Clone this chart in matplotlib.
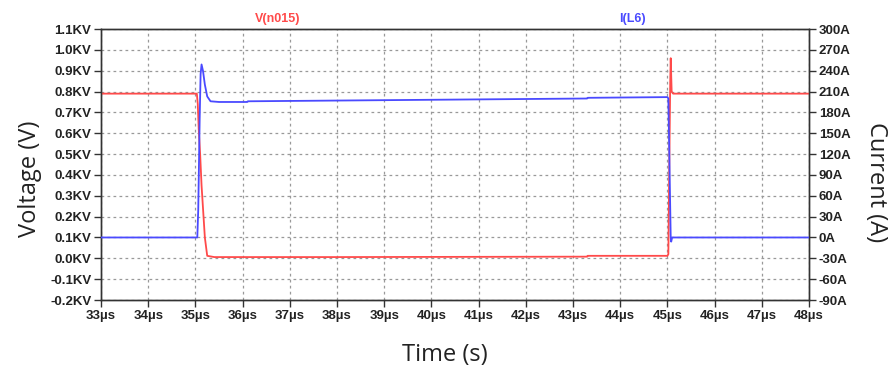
"""Switching transient: node voltage V(n015) and inductor current I(L6)."""
import matplotlib
matplotlib.use("Agg")
import matplotlib.pyplot as plt
from matplotlib.ticker import FuncFormatter, MultipleLocator

plt.rcParams.update({
    "font.family": ["Liberation Sans Narrow", "Liberation Sans", "DejaVu Sans"],
    "axes.edgecolor": "#333333",
    "xtick.color": "#333333",
    "ytick.color": "#333333",
})

# V(n015) in kV
v_time = [33.0, 35.03, 35.05, 35.07, 35.10, 35.13, 35.20, 35.25, 35.40, 38.0,
          43.3, 43.31, 45.0, 45.02, 45.04, 45.06, 45.07, 45.09, 45.12, 48.0]
v_kv = [0.79, 0.79, 0.74, 0.62, 0.50, 0.35, 0.10, 0.012, 0.006, 0.006,
        0.008, 0.012, 0.012, 0.02, 0.45, 0.85, 0.96, 0.80, 0.79, 0.79]

# I(L6) in A
i_time = [33.0, 35.04, 35.06, 35.09, 35.11, 35.13, 35.16, 35.20, 35.25, 35.32,
          35.50, 36.1, 36.11, 43.3, 43.31, 45.0, 45.02, 45.04, 45.07, 45.08,
          45.10, 48.0]
i_amp = [0.0, 0.0, 40.0, 170.0, 235.0, 249.0, 240.0, 220.0, 203.0, 196.0,
         195.0, 195.0, 196.0, 200.0, 201.0, 202.0, 200.0, 120.0, 0.0, -6.0,
         0.0, 0.0]

RED = "#ff4a4a"
BLUE = "#4a4aff"

fig = plt.figure(figsize=(8.9, 3.72), dpi=100)
ax = fig.add_axes([0.1135, 0.1935, 0.7955, 0.7285])
ax2 = ax.twinx()

ax.plot(v_time, v_kv, color=RED, lw=1.3, zorder=3)
ax2.plot(i_time, i_amp, color=BLUE, lw=1.3, zorder=3)

ax.set_xlim(33, 48)
ax.set_ylim(-0.2, 1.1)
ax2.set_ylim(-90, 300)

ax.xaxis.set_major_locator(MultipleLocator(1))
ax.yaxis.set_major_locator(MultipleLocator(0.1))
ax2.yaxis.set_major_locator(MultipleLocator(30))

ax.xaxis.set_major_formatter(FuncFormatter(lambda x, _: f"{x:.0f}\u00b5s"))
ax.yaxis.set_major_formatter(FuncFormatter(lambda y, _: f"{y:.1f}KV".replace("-0.0", "0.0")))
ax2.yaxis.set_major_formatter(FuncFormatter(lambda y, _: f"{y:.0f}A"))

ax.grid(True, color="#999999", linestyle=(0, (2.2, 2.6)), lw=0.9)

for a in (ax, ax2):
    a.tick_params(direction="out", length=5, width=1, labelsize=9.5, pad=2)
    for lab in a.get_xticklabels() + a.get_yticklabels():
        lab.set_fontweight("bold")
        lab.set_color("#222222")
    for s in a.spines.values():
        s.set_linewidth(1.0)

ax.text(0.249, 1.015, "V(n015)", transform=ax.transAxes, color=RED,
        fontsize=9, fontweight="bold", ha="center", va="bottom")
ax.text(0.75, 1.015, "I(L6)", transform=ax.transAxes, color=BLUE,
        fontsize=9, fontweight="bold", ha="center", va="bottom")

label_font = dict(family=["Open Sans", "DejaVu Sans"], fontsize=17, color="#222222")
fig.text(0.034, 0.52, "Voltage (V)", rotation=90, ha="center", va="center", **label_font)
fig.text(0.984, 0.51, "Current (A)", rotation=270, ha="center", va="center", **label_font)
fig.text(0.5, 0.045, "Time (s)", ha="center", va="center", **label_font)

fig.savefig("out.png", dpi=100)
